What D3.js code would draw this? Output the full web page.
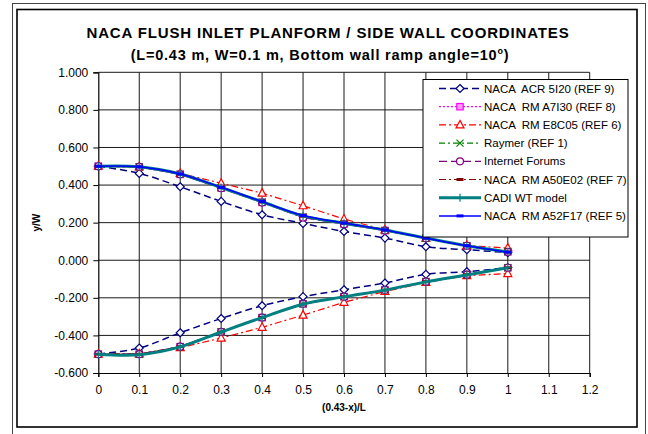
<!DOCTYPE html>
<html>
<head>
<meta charset="utf-8">
<script src="https://cdn.jsdelivr.net/npm/d3@7"></script>
<style>
  html, body { margin: 0; padding: 0; background: #fff; }
  svg { display: block; font-family: "Liberation Sans", Arial, sans-serif; }
</style>
</head>
<body>
<svg id="chart" width="648" height="434"></svg>
<script>
// Station positions along the inlet, (0.43-x)/L
const xValues = [0, 0.1, 0.2, 0.3, 0.4, 0.5, 0.6, 0.7, 0.8, 0.9, 1.0];

// Side wall half-width y/W for each source: upper and lower walls
const acr5i20Upper = [0.500, 0.462, 0.391, 0.313, 0.242, 0.196, 0.153, 0.118, 0.072, 0.056, 0.041];
const acr5i20Lower = [-0.499, -0.467, -0.386, -0.310, -0.242, -0.194, -0.157, -0.121, -0.075, -0.061, -0.039];

const rmA7i30Upper = [0.500, 0.497, 0.457, 0.384, 0.308, 0.228, 0.193, 0.158, 0.117, 0.077, 0.045];
const rmA7i30Lower = [-0.500, -0.500, -0.460, -0.381, -0.305, -0.232, -0.194, -0.158, -0.114, -0.077, -0.040];

const rmE8c05Upper = [0.500, 0.497, 0.462, 0.410, 0.357, 0.290, 0.219, 0.162, 0.118, 0.078, 0.065];
const rmE8c05Lower = [-0.500, -0.498, -0.465, -0.414, -0.357, -0.292, -0.224, -0.166, -0.118, -0.082, -0.071];

const raymerUpper = [0.500, 0.497, 0.458, 0.386, 0.310, 0.232, 0.195, 0.159, 0.117, 0.077, 0.045];
const raymerLower = [-0.500, -0.500, -0.460, -0.381, -0.305, -0.233, -0.194, -0.159, -0.114, -0.077, -0.040];

const forumsUpper = [0.500, 0.497, 0.457, 0.383, 0.307, 0.227, 0.192, 0.158, 0.117, 0.077, 0.045];
const forumsLower = [-0.500, -0.500, -0.460, -0.381, -0.305, -0.232, -0.194, -0.158, -0.114, -0.077, -0.040];

const rmA50e02Upper = [0.500, 0.497, 0.458, 0.386, 0.310, 0.234, 0.196, 0.160, 0.117, 0.077, 0.044];
const rmA50e02Lower = [-0.500, -0.500, -0.460, -0.382, -0.305, -0.233, -0.194, -0.159, -0.114, -0.077, -0.040];

const cadiUpper = [0.500, 0.497, 0.459, 0.387, 0.311, 0.236, 0.197, 0.161, 0.118, 0.077, 0.044];
const cadiLower = [-0.500, -0.503, -0.461, -0.382, -0.305, -0.234, -0.195, -0.159, -0.115, -0.078, -0.040];

const rmA52f17Upper = [0.500, 0.497, 0.459, 0.388, 0.312, 0.238, 0.198, 0.161, 0.118, 0.077, 0.043];

const seriesNames = [
  "NACA  ACR 5I20 (REF 9)",
  "NACA  RM A7I30 (REF 8)",
  "NACA  RM E8C05 (REF 6)",
  "Raymer (REF 1)",
  "Internet Forums",
  "NACA  RM A50E02 (REF 7)",
  "CADI WT model",
  "NACA  RM A52F17 (REF 5)"
];

// Axis ticks
const xTicks = [0, 0.1, 0.2, 0.3, 0.4, 0.5, 0.6, 0.7, 0.8, 0.9, 1.0, 1.1, 1.2];
const xTickLabels = ["0", "0.1", "0.2", "0.3", "0.4", "0.5", "0.6", "0.7", "0.8", "0.9", "1", "1.1", "1.2"];
const yTicks = [-0.6, -0.4, -0.2, 0, 0.2, 0.4, 0.6, 0.8, 1.0];
const yTickLabels = ["-0.600", "-0.400", "-0.200", "0.000", "0.200", "0.400", "0.600", "0.800", "1.000"];

// Line and marker styles for each source
const styles = [
  { color: "#000080", width: 1.5, dash: "7,4", marker: "diamond", fill: "#fff", curve: true },
  { color: "#FF00FF", width: 1.2, dash: "2,2", marker: "square", fill: "#FF99FF", curve: false },
  { color: "#FF0000", width: 1.2, dash: "7,3,2,3", marker: "triangle", fill: "#fff", curve: false },
  { color: "#008000", width: 1.2, dash: "6,3,2,3", marker: "cross", fill: "none", curve: false },
  { color: "#800080", width: 1.2, dash: "8,4", marker: "circle", fill: "#fff", curve: false },
  { color: "#800000", width: 1.2, dash: "7,3,2,3", marker: "bar", fill: "#800000", curve: false },
  { color: "#008080", width: 3, dash: null, marker: "plus", fill: "none", curve: true },
  { color: "#0000FF", width: 1.5, dash: null, marker: "bar", fill: "#0000FF", curve: true }
];

const branches = [
  [acr5i20Upper, acr5i20Lower],
  [rmA7i30Upper, rmA7i30Lower],
  [rmE8c05Upper, rmE8c05Lower],
  [raymerUpper, raymerLower],
  [forumsUpper, forumsLower],
  [rmA50e02Upper, rmA50e02Lower],
  [cadiUpper, cadiLower],
  [rmA52f17Upper]
];

const svg = d3.select("#chart");

// Chart frames
svg.append("rect").attr("x", 12.5).attr("y", 3.5).attr("width", 633).attr("height", 440)
  .attr("fill", "none").attr("stroke", "#444").attr("stroke-width", 1);
svg.append("rect").attr("x", 17).attr("y", 9.5).attr("width", 620).attr("height", 417.5)
  .attr("fill", "#fff").attr("stroke", "#000").attr("stroke-width", 1.6);

const x = d3.scaleLinear().domain([0, 1.2]).range([98.3, 589.7]);
const y = d3.scaleLinear().domain([-0.6, 1.0]).range([373, 72.3]);

// Gridlines
const grid = svg.append("g").attr("stroke", "#1a1a1a").attr("stroke-width", 1);
grid.selectAll("line.v").data(xTicks.filter(d => d > 0)).join("line")
  .attr("x1", d => x(d)).attr("x2", d => x(d)).attr("y1", y(1.0)).attr("y2", y(-0.6));
grid.selectAll("line.h").data(yTicks.filter(d => d > -0.6)).join("line")
  .attr("x1", x(0)).attr("x2", x(1.2)).attr("y1", d => y(d)).attr("y2", d => y(d));

// Axes
const yAxis = d3.axisLeft(y).tickValues(yTicks).tickSize(5).tickPadding(5)
  .tickFormat((d, i) => yTickLabels[i]);
const xAxis = d3.axisBottom(x).tickValues(xTicks).tickSize(4).tickPadding(8.5)
  .tickFormat((d, i) => xTickLabels[i]);

const gy = svg.append("g").attr("transform", `translate(${x(0)},0)`).call(yAxis);
const gx = svg.append("g").attr("transform", `translate(0,${y(-0.6)})`).call(xAxis);
[gx, gy].forEach(g => {
  g.select(".domain").attr("stroke", "#000").attr("stroke-width", 1.2);
  g.selectAll(".tick line").attr("stroke", "#000");
  g.selectAll(".tick text").attr("font-family", "Liberation Sans, Arial, sans-serif")
    .attr("font-size", 12).attr("fill", "#000");
});

// Axis titles
svg.append("text").attr("x", (x(0) + x(1.2)) / 2).attr("y", 411)
  .attr("text-anchor", "middle").attr("font-size", 10).attr("font-weight", "bold")
  .text("(0.43-x)/L");
svg.append("text").attr("transform", `translate(40,${(y(1) + y(-0.6)) / 2}) rotate(-90)`)
  .attr("text-anchor", "middle").attr("font-size", 10).attr("font-weight", "bold")
  .text("y/W");

// Title
svg.append("text").attr("x", 328).attr("y", 37.5).attr("text-anchor", "middle")
  .attr("font-size", 15).attr("font-weight", "bold").attr("letter-spacing", 0.85)
  .text("NACA FLUSH INLET PLANFORM / SIDE WALL COORDINATES");
const sub = svg.append("text").attr("x", 320).attr("y", 60).attr("text-anchor", "middle")
  .attr("font-size", 14.5).attr("font-weight", "bold").attr("letter-spacing", 0.8);
sub.append("tspan").text("(L=0.43 m, W=0.1 m, Bottom wall ramp angle=10");
sub.append("tspan").attr("font-size", 9).attr("dy", -6.5).text("o");
sub.append("tspan").attr("dy", 6.5).text(")");

// Marker drawing
function drawMarker(g, type, cx, cy, st) {
  const c = st.color;
  switch (type) {
    case "diamond":
      g.append("path").attr("d", `M${cx},${cy - 4}L${cx + 4},${cy}L${cx},${cy + 4}L${cx - 4},${cy}Z`)
        .attr("fill", st.fill).attr("stroke", c).attr("stroke-width", 1.2);
      break;
    case "square":
      g.append("rect").attr("x", cx - 3.2).attr("y", cy - 3.2).attr("width", 6.4).attr("height", 6.4)
        .attr("fill", st.fill).attr("stroke", c).attr("stroke-width", 1.2);
      break;
    case "triangle":
      g.append("path").attr("d", `M${cx},${cy - 4.5}L${cx + 4},${cy + 3}L${cx - 4},${cy + 3}Z`)
        .attr("fill", st.fill).attr("stroke", c).attr("stroke-width", 1.2);
      break;
    case "cross":
      g.append("path").attr("d", `M${cx - 3.5},${cy - 3.5}L${cx + 3.5},${cy + 3.5}M${cx - 3.5},${cy + 3.5}L${cx + 3.5},${cy - 3.5}`)
        .attr("stroke", c).attr("stroke-width", 1.2);
      break;
    case "circle":
      g.append("circle").attr("cx", cx).attr("cy", cy).attr("r", 3.5)
        .attr("fill", st.fill).attr("stroke", c).attr("stroke-width", 1.2);
      break;
    case "bar":
      g.append("rect").attr("x", cx - 3.5).attr("y", cy - 1.5).attr("width", 7).attr("height", 3)
        .attr("fill", st.fill);
      break;
    case "plus":
      g.append("path").attr("d", `M${cx - 4},${cy}L${cx + 4},${cy}M${cx},${cy - 4}L${cx},${cy + 4}`)
        .attr("stroke", c).attr("stroke-width", 1.2);
      break;
  }
}

// Series lines and markers
const plot = svg.append("g");
branches.forEach((brs, si) => {
  const st = styles[si];
  const line = d3.line().x((d, i) => x(xValues[i])).y(d => y(d))
    .curve(st.curve ? d3.curveCatmullRom.alpha(0.5) : d3.curveLinear);
  const g = plot.append("g");
  brs.forEach(vals => {
    g.append("path").datum(vals).attr("d", line)
      .attr("fill", "none").attr("stroke", st.color).attr("stroke-width", st.width)
      .attr("stroke-dasharray", st.dash).attr("stroke-linejoin", "round");
  });
  brs.forEach(vals => {
    vals.forEach((v, i) => drawMarker(g, st.marker, x(xValues[i]), y(v), st));
  });
});

// Legend
const lg = svg.append("g");
lg.append("rect").attr("x", 423).attr("y", 79.5).attr("width", 205).attr("height", 157.5)
  .attr("fill", "#fff").attr("stroke", "#000").attr("stroke-width", 1);
seriesNames.forEach((name, i) => {
  const st = styles[i];
  const ly = 88.5 + i * 18.2;
  lg.append("line").attr("x1", 439).attr("x2", 481).attr("y1", ly).attr("y2", ly)
    .attr("stroke", st.color).attr("stroke-width", st.width).attr("stroke-dasharray", st.dash);
  drawMarker(lg, st.marker, 460, ly, st);
  lg.append("text").attr("x", 484).attr("y", ly + 4).attr("font-size", 11.5).attr("fill", "#000")
    .attr("xml:space", "preserve").style("white-space", "pre").text(name);
});
</script>
</body>
</html>
